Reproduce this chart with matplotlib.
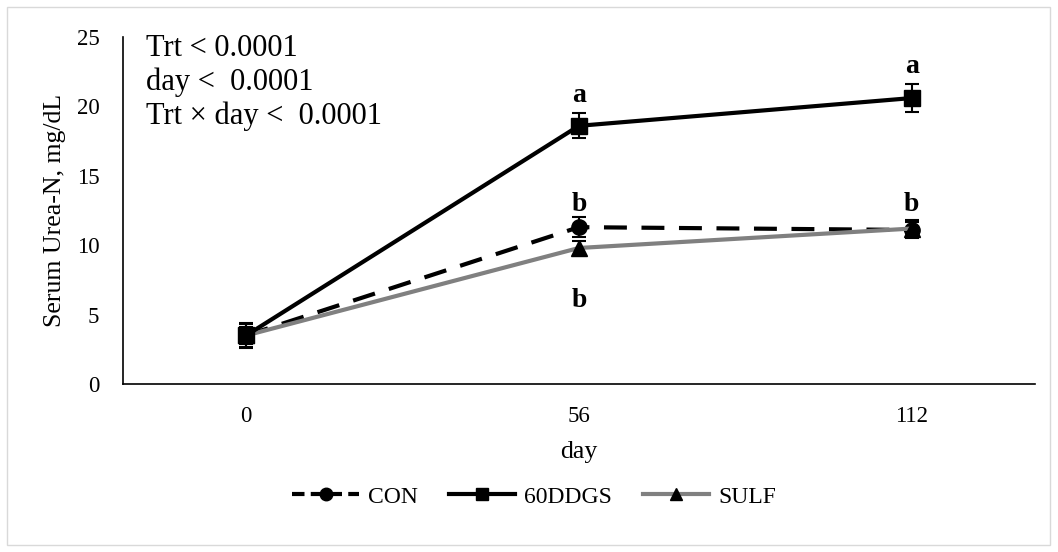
import matplotlib
matplotlib.use('Agg')
import matplotlib.pyplot as plt
from matplotlib.patches import Rectangle
from matplotlib.lines import Line2D

plt.rcParams['font.family'] = ['Liberation Serif', 'DejaVu Serif']

days = ['0', '56', '112']
con = [3.5, 11.3, 11.1]
con_err = [0.9, 0.7, 0.6]
ddgs = [3.5, 18.6, 20.6]
ddgs_err = [0.8, 0.9, 1.0]
sulf = [3.5, 9.8, 11.2]
sulf_err = [0.6, 0.5, 0.6]

# letters: (x index, y value, text)
letters = [(1, 20.8, 'a'), (1, 12.9, 'b'), (1, 6.0, 'b'), (2, 22.9, 'a'), (2, 12.9, 'b')]
stats_text = 'Trt < 0.0001\nday <  0.0001\nTrt \u00d7 day <  0.0001'

fig = plt.figure(figsize=(10.58, 5.52), dpi=100)
fig.patches.append(Rectangle((7 / 1058, 7 / 552), 1043 / 1058, 538 / 552,
                             transform=fig.transFigure, fill=False,
                             edgecolor='#d9d9d9', linewidth=1))
ax = fig.add_axes([0.1163, 0.3043, 0.8617, 0.6287])

x = list(range(len(days)))
ax.errorbar(x, con, yerr=con_err, color='black', lw=3, dashes=(5.5, 3.5),
            marker='o', ms=11, capsize=5, elinewidth=1.5, capthick=1.5,
            zorder=3)
ax.errorbar(x, ddgs, yerr=ddgs_err, color='black', lw=3,
            marker='s', ms=12, capsize=5, elinewidth=1.5, capthick=1.5,
            zorder=4)
ax.errorbar(x, sulf, yerr=sulf_err, color='#808080', lw=3,
            marker='^', ms=11, mfc='black', mec='black', ecolor='black',
            capsize=5, elinewidth=1.5, capthick=1.5, zorder=3)

for xi, yi, t in letters:
    ax.text(xi, yi, t, ha='center', va='center', fontsize=20, fontweight='bold')

ax.text(-0.3, 25.2, stats_text, ha='left', va='top', fontsize=22, linespacing=1.2)

ax.set_xlim(-0.37, 2.37)
ax.set_ylim(0, 25)
ax.set_yticks([0, 5, 10, 15, 20, 25])
ax.set_xticks(x)
ax.set_xticklabels(days)
ax.tick_params(axis='both', length=0, labelsize=16.5)
ax.tick_params(axis='x', pad=16)
ax.tick_params(axis='y', pad=17)
for s in ['top', 'right']:
    ax.spines[s].set_visible(False)
for s in ['left', 'bottom']:
    ax.spines[s].set_linewidth(1.2)
ax.set_xlabel('day', fontsize=18.5, labelpad=10)
ax.set_ylabel('Serum Urea-N, mg/dL', fontsize=18.5, labelpad=8)

handles = [
    Line2D([], [], color='black', lw=3, dashes=(3, 1.5), marker='o', ms=9),
    Line2D([], [], color='black', lw=3, marker='s', ms=9),
    Line2D([], [], color='#808080', lw=3, marker='^', ms=9, mfc='black', mec='black'),
]
fig.legend(handles, ['CON', '60DDGS', 'SULF'], loc='center',
           bbox_to_anchor=(0.505, 0.1), ncol=3, frameon=False,
           fontsize=17, handlelength=2.8, columnspacing=1.3, handletextpad=0.4)

fig.savefig('out.png', dpi=100)
